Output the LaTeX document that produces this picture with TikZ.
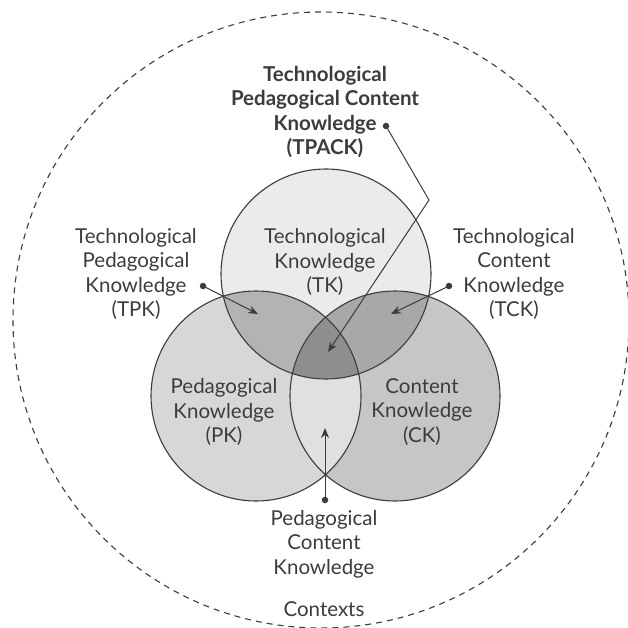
\documentclass[tikz,border=0pt]{standalone}
\usepackage{fontspec}
\setmainfont{Lato}
\usetikzlibrary{arrows.meta}
\definecolor{tkc}{HTML}{EBEBEB}
\definecolor{pkc}{HTML}{D7D7D7}
\definecolor{ckc}{HTML}{C6C6C6}
\definecolor{tpkc}{HTML}{B3B3B3}
\definecolor{tckc}{HTML}{A8A8A8}
\definecolor{pckc}{HTML}{E0E0E0}
\definecolor{tpackc}{HTML}{8E8E8E}
\definecolor{ink}{HTML}{3C3C3C}
\tikzset{
  venn/.style={circle, draw=ink, line width=1.1pt, minimum size=210pt, inner sep=0pt},
  lbl/.style={align=center, text=ink, font=\fontsize{20.5}{24.5}\selectfont, inner sep=0pt},
  blbl/.style={lbl, font=\fontsize{20.5}{24.5}\selectfont\bfseries},
  dotpt/.style={circle, fill=ink, inner sep=0pt, minimum size=6.5pt},
  pointer/.style={draw=ink, line width=1pt, -{Stealth[length=10pt, width=8pt]}},
}
\begin{document}
\begin{tikzpicture}[x=1pt, y=-1pt]
\useasboundingbox (0,0) rectangle (627,628);
\fill[white] (0,0) rectangle (627,628);
% outer context circle
\node[circle, draw=ink, line width=1.1pt, dash pattern=on 6pt off 5pt, minimum size=616pt, inner sep=0pt] (ctx) at (321,320) {};
% fills
\fill[pkc] (256,396) circle (105pt);
\fill[ckc] (395,396) circle (105pt);
\fill[tkc] (326,274) circle (105pt);
\begin{scope}
  \clip (326,274) circle (105pt);
  \fill[tpkc] (256,396) circle (105pt);
  \fill[tckc] (395,396) circle (105pt);
  \clip (256,396) circle (105pt);
  \fill[tpackc] (395,396) circle (105pt);
\end{scope}
\begin{scope}
  \clip (256,396) circle (105pt);
  \clip (395,396) circle (105pt);
  \fill[pckc] (326,274) circle (105pt) [even odd rule] (0,0) rectangle (627,628);
\end{scope}
% circles
\node[venn] (TK) at (326,274) {};
\node[venn] (PK) at (256,396) {};
\node[venn] (CK) at (395,396) {};
% labels
\node[blbl] (tpack) at (325,112) {Technological\\Pedagogical Content\\Knowledge\\(TPACK)};
\node[lbl] (tk) at (325,262) {Technological\\Knowledge\\(TK)};
\node[lbl] (tpk) at (136,274) {Technological\\Pedagogical\\Knowledge\\(TPK)};
\node[lbl] (tck) at (514,274) {Technological\\Content\\Knowledge\\(TCK)};
\node[lbl] (pk) at (224,412) {Pedagogical\\Knowledge\\(PK)};
\node[lbl] (ck) at (422,412) {Content\\Knowledge\\(CK)};
\node[lbl] (pck) at (324,544) {Pedagogical\\Content\\Knowledge};
\node[lbl] (ctxl) at (324,609) {Contexts};
% pointers
\node[dotpt] (d1) at (386,126) {};
\coordinate (b1) at (429,200);
\coordinate (t1) at (328,352);
\draw[pointer] (d1.center) -- (b1) -- (t1);
\node[dotpt] (d2) at (203,286) {};
\coordinate (t2) at (258,314);
\draw[pointer] (d2.center) -- (t2);
\node[dotpt] (d3) at (449,286) {};
\coordinate (t3) at (391,314);
\draw[pointer] (d3.center) -- (t3);
\node[dotpt] (d4) at (325,500) {};
\coordinate (t4) at (325,428);
\draw[pointer] (d4.center) -- (t4);
\end{tikzpicture}
\end{document}
